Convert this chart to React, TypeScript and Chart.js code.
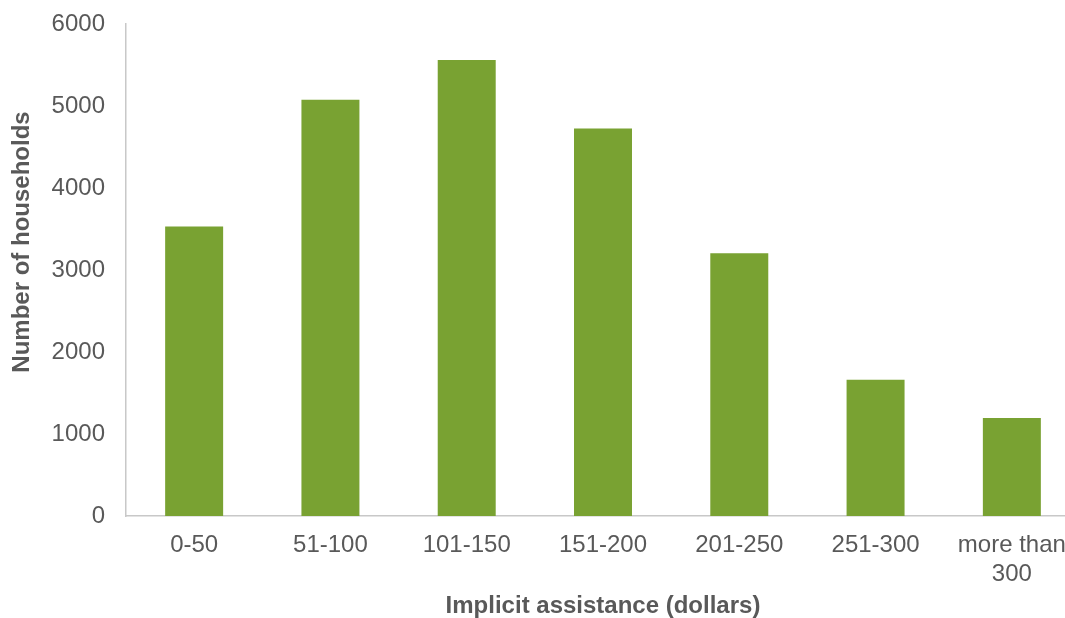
import React, { useEffect, useRef } from "react";
import { Chart, registerables } from "chart.js";

Chart.register(...registerables);

const categories: (string | string[])[] = [
  "0-50",
  "51-100",
  "101-150",
  "151-200",
  "201-250",
  "251-300",
  ["more than", "300"],
];
const households: number[] = [3530, 5075, 5560, 4725, 3205, 1663, 1196];
const yTicks: number[] = [0, 1000, 2000, 3000, 4000, 5000, 6000];
const xTitle = "Implicit assistance (dollars)";
const yTitle = "Number of households";

const FONT = "'Liberation Sans', Arial, sans-serif";
const TEXT = "#595959";
const BAR = "#79A232";
const AXIS = "#C8C8C8";

const yTitlePlugin = {
  id: "yTitlePlugin",
  afterDraw(chart: any) {
    const { ctx, chartArea } = chart;
    ctx.save();
    ctx.font = `bold 24px ${FONT}`;
    ctx.fillStyle = TEXT;
    ctx.textAlign = "center";
    ctx.textBaseline = "middle";
    const cy = (chartArea.top + chartArea.bottom) / 2 - 28;
    ctx.translate(22, cy);
    ctx.rotate(-Math.PI / 2);
    ctx.fillText(yTitle, 0, 0);
    ctx.restore();
  },
};

export default function App() {
  const ref = useRef<HTMLCanvasElement | null>(null);
  useEffect(() => {
    if (!ref.current) return;
    const chart = new Chart(ref.current, {
      type: "bar",
      data: {
        labels: categories,
        datasets: [
          {
            data: households,
            backgroundColor: BAR,
            borderWidth: 0,
            barPercentage: 0.4255,
            categoryPercentage: 1,
          },
        ],
      },
      options: {
        responsive: false,
        animation: false,
        layout: { padding: { top: 24, right: 20, left: 0, bottom: 0 } },
        plugins: {
          legend: { display: false },
          tooltip: { enabled: false },
        },
        scales: {
          x: {
            grid: { display: false, drawTicks: false },
            border: { display: true, color: AXIS, width: 1.5 },
            ticks: {
              color: TEXT,
              font: { family: FONT, size: 24, lineHeight: 1.2 },
              padding: 15,
              maxRotation: 0,
              autoSkip: false,
            },
            title: {
              display: true,
              text: xTitle,
              color: TEXT,
              font: { family: FONT, size: 24, weight: "bold", lineHeight: 1 },
              padding: 0,
            },
            afterFit(scale: any) {
              scale.height = 102;
            },
          },
          y: {
            min: 0,
            max: 6000,
            afterBuildTicks(scale: any) {
              scale.ticks = yTicks.map((v) => ({ value: v }));
            },
            grid: {
              display: false,
              drawTicks: true,
              tickLength: 21,
              tickColor: "rgba(0,0,0,0)",
            },
            border: { display: true, color: AXIS, width: 1.5 },
            ticks: {
              color: TEXT,
              font: { family: FONT, size: 24 },
              padding: 0,
              callback: (v: any) => String(v),
            },
            title: { display: false },
            afterFit(scale: any) {
              scale.width = 126;
            },
          },
        },
      },
      plugins: [yTitlePlugin],
    });
    return () => chart.destroy();
  }, []);
  return (
    <div
      style={{
        position: "fixed",
        left: 0,
        top: 0,
        width: 1065,
        height: 618,
        overflow: "hidden",
        background: "#fff",
      }}
    >
      <canvas ref={ref} width={1100} height={618} style={{ display: "block" }} />
    </div>
  );
}
